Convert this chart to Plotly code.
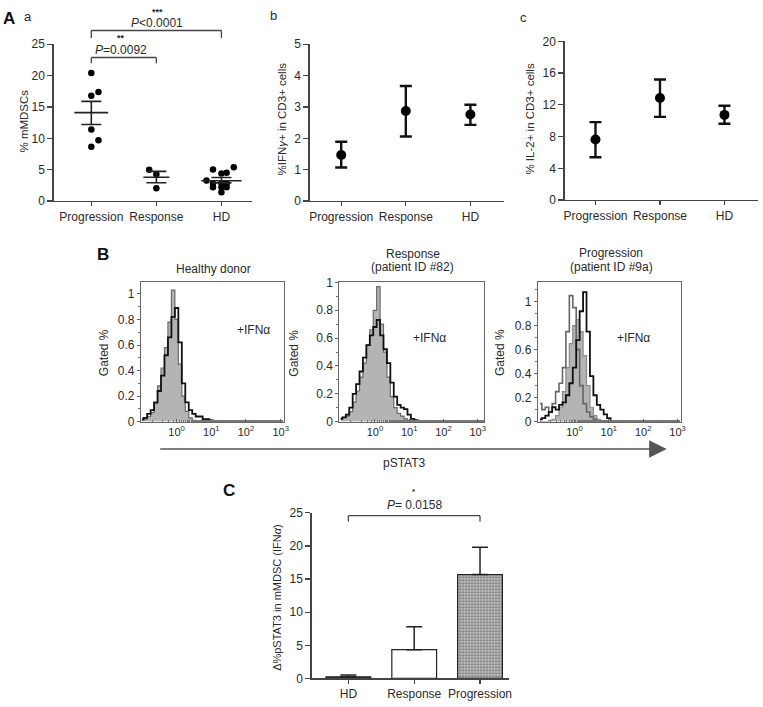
import plotly.graph_objects as go

W, H = 763, 707
FONT = "Liberation Sans, Arial, sans-serif"
TXT = "#2a2a2a"
AX = "#444444"

# ---------------- data ----------------
# Panel A a: % mMDSCs (scatter with mean +/- SEM)
CATS_A = ["Progression", "Response", "HD"]
MDSC_PROG = [20.4, 17.4, 16.8, 11.4, 9.7, 8.65]
MDSC_PROG_JIT = [0, 0.11, 0, 0, 0.11, 0]
MDSC_RESP = [5.0, 4.27, 2.03]
MDSC_RESP_JIT = [-0.11, 0, 0]
MDSC_HD = [5.05, 5.4, 4.4, 4.5, 3.3, 2.8, 2.8, 2.8, 2.2, 2.2, 2.2, 1.4]
MDSC_HD_JIT = [-0.13, 0.19, 0, 0.08, -0.23, -0.13, 0, 0.08, -0.13, 0, 0.08, 0]
MDSC_MEAN = [14.1, 3.8, 3.25]
MDSC_SEM_LOW = [12.2, 2.92, 2.9]
MDSC_SEM_HIGH = [15.9, 4.74, 3.75]

# Panel A b: % IFNg+ in CD3+ cells
IFNG_MEAN = [1.47, 2.87, 2.76]
IFNG_LOW = [1.07, 2.06, 2.43]
IFNG_HIGH = [1.89, 3.67, 3.07]

# Panel A c: % IL-2+ in CD3+ cells
IL2_MEAN = [7.63, 12.87, 10.73]
IL2_LOW = [5.4, 10.48, 9.62]
IL2_HIGH = [9.82, 15.19, 11.88]

# Panel B: pSTAT3 histograms (log10 bin centres, gated %)
LOG_BINS = [-1.0, -0.9, -0.8, -0.7, -0.6, -0.5, -0.4, -0.3, -0.2, -0.1, 0.0, 0.1, 0.2,
            0.3, 0.4, 0.5, 0.6, 0.7, 0.8, 0.9, 1.0, 1.1, 1.2, 1.3, 1.4, 1.5]
HD_FILL = [0.01, 0.02, 0.04, 0.07, 0.14, 0.28, 0.42, 0.58, 0.78, 1.03, 0.80, 0.45, 0.20,
           0.08, 0.03, 0.01, 0, 0, 0, 0, 0, 0, 0, 0, 0, 0]
HD_IFNA = [0.02, 0.03, 0.06, 0.09, 0.15, 0.24, 0.36, 0.52, 0.66, 0.82, 0.89, 0.62, 0.30,
           0.15, 0.09, 0.06, 0.04, 0.04, 0.02, 0.02, 0.01, 0, 0, 0, 0, 0]
RESP_FILL = [0.02, 0.03, 0.04, 0.07, 0.14, 0.22, 0.32, 0.42, 0.55, 0.66, 0.80, 0.97, 0.70,
             0.50, 0.32, 0.18, 0.10, 0.06, 0.04, 0.02, 0.01, 0, 0, 0, 0, 0]
RESP_IFNA = [0.02, 0.03, 0.05, 0.10, 0.20, 0.27, 0.36, 0.46, 0.55, 0.62, 0.68, 0.73, 0.62,
             0.52, 0.42, 0.28, 0.18, 0.12, 0.10, 0.09, 0.05, 0.02, 0.01, 0, 0, 0]
PROG_FILL = [0, 0, 0, 0.01, 0.02, 0.05, 0.12, 0.25, 0.45, 0.65, 0.80, 0.85, 0.75,
             0.55, 0.30, 0.12, 0.05, 0.02, 0, 0, 0, 0, 0, 0, 0, 0]
PROG_GRAY = [0.15, 0.10, 0.12, 0.08, 0.15, 0.25, 0.32, 0.45, 0.75, 1.05, 0.95, 0.60, 0.30,
             0.15, 0.08, 0.04, 0.02, 0, 0, 0, 0, 0, 0, 0, 0, 0]
PROG_IFNA = [0.02, 0.03, 0.05, 0.08, 0.12, 0.10, 0.14, 0.16, 0.22, 0.32, 0.45, 0.68, 0.92,
             1.08, 0.75, 0.38, 0.22, 0.14, 0.10, 0.06, 0.03, 0, 0, 0, 0, 0]
HIST_TICKS = [1, 10, 100, 1000]
HIST_TICKTEXT = ["10<sup>0</sup>", "10<sup>1</sup>", "10<sup>2</sup>", "10<sup>3</sup>"]

# Panel C: delta % pSTAT3 in mMDSC (IFNa)
CATS_C = ["HD", "Response", "Progression"]
PSTAT3_MEAN = [0.25, 4.34, 15.68]
PSTAT3_UPPER = [0.5, 7.8, 19.8]


# ---------------- helpers ----------------
def px(x):
    return x / W


def py(y):
    return 1 - y / H


AXES = {}


def set_axes(n, xl, xr, yb, yt, xrange, yrange):
    AXES[n] = (xl, xr, xrange)
    return (dict(domain=[px(xl), px(xr)], range=xrange),
            dict(domain=[py(yb), py(yt)], range=yrange))


def cat_px(n, v):
    xl, xr, (r0, r1) = AXES[n]
    return xl + (v - r0) / (r1 - r0) * (xr - xl)


fig = go.Figure()

xa1, ya1 = set_axes(1, 53, 253, 198, 38, [-0.58, 2.47], [0, 25])
xa2, ya2 = set_axes(2, 311, 507, 198, 38, [-0.49, 2.52], [0, 5])
xa3, ya3 = set_axes(3, 568, 763, 197, 35, [-0.48, 2.52], [0, 20])
xa7, ya7 = set_axes(7, 313, 512, 685, 516, [-0.56, 2.44], [0, 25])

# ---- panel a
for vals, jit, ci in [(MDSC_PROG, MDSC_PROG_JIT, 0), (MDSC_RESP, MDSC_RESP_JIT, 1),
                      (MDSC_HD, MDSC_HD_JIT, 2)]:
    fig.add_trace(go.Scatter(x=[ci + j for j in jit], y=vals, mode="markers",
                             marker=dict(color="black", size=6.5),
                             xaxis="x", yaxis="y", showlegend=False))
fig.add_trace(go.Scatter(
    x=[0, 1, 2], y=MDSC_MEAN, mode="markers", marker=dict(size=1, opacity=0),
    error_x=dict(type="data", array=[0.26, 0.2, 0.31], symmetric=True, width=0,
                 thickness=1.6, color="#222"),
    error_y=dict(type="data", symmetric=False,
                 array=[h - m for h, m in zip(MDSC_SEM_HIGH, MDSC_MEAN)],
                 arrayminus=[m - l for l, m in zip(MDSC_SEM_LOW, MDSC_MEAN)],
                 width=10, thickness=1.6, color="#222"),
    xaxis="x", yaxis="y", showlegend=False))

# ---- panels b, c
for mean, lo, hi, xr, yr in [(IFNG_MEAN, IFNG_LOW, IFNG_HIGH, "x2", "y2"),
                             (IL2_MEAN, IL2_LOW, IL2_HIGH, "x3", "y3")]:
    fig.add_trace(go.Scatter(
        x=[0, 1, 2], y=mean, mode="markers", marker=dict(color="black", size=10),
        error_y=dict(type="data", symmetric=False,
                     array=[h - m for h, m in zip(hi, mean)],
                     arrayminus=[m - l for l, m in zip(lo, mean)],
                     width=6, thickness=2.4, color="#111"),
        xaxis=xr, yaxis=yr, showlegend=False))

# ---- histograms
XV = [10 ** v for v in LOG_BINS]
hist_specs = [
    (4, 141, 285, [-1.03, 3.09], [0, 1.09], HD_FILL, None, HD_IFNA),
    (5, 341, 487, [-1.04, 3.19], [0, 1.0], RESP_FILL, None, RESP_IFNA),
    (6, 541, 685, [-1.07, 3.09], [0, 1.16], PROG_FILL, PROG_GRAY, PROG_IFNA),
]
hist_axes = {}
for n, xl, xr, xrg, yrg, fill, gray, ifna in hist_specs:
    hist_axes[n] = set_axes(n, xl, xr, 423, 281, xrg, yrg)
    xref, yref = f"x{n}", f"y{n}"
    fig.add_trace(go.Scatter(x=XV, y=fill, mode="lines", line_shape="hvh",
                             fill="tozeroy", fillcolor="#b4b4b4",
                             line=dict(color="#8a8a8a" if gray else "#6a6a6a", width=1.2),
                             xaxis=xref, yaxis=yref, showlegend=False))
    if gray:
        fig.add_trace(go.Scatter(x=XV, y=gray, mode="lines", line_shape="hvh",
                                 line=dict(color="#666666", width=1.6),
                                 xaxis=xref, yaxis=yref, showlegend=False))
    fig.add_trace(go.Scatter(x=XV, y=ifna, mode="lines", line_shape="hvh",
                             line=dict(color="#111111", width=1.8),
                             xaxis=xref, yaxis=yref, showlegend=False))

# ---- panel C bars (one trace per bar for individual fills)
bar_styles = [
    dict(color="#555555"),
    dict(color="white"),
    dict(color="white", pattern=dict(shape="+", fgcolor="#111111", bgcolor="white",
                                     size=3, solidity=0.8, fillmode="overlay")),
]
for i in range(3):
    fig.add_trace(go.Bar(
        x=[i], y=[PSTAT3_MEAN[i]], width=0.68,
        marker=dict(line=dict(color="#222", width=1.2), **bar_styles[i]),
        error_y=dict(type="data", symmetric=False,
                     array=[PSTAT3_UPPER[i] - PSTAT3_MEAN[i]], arrayminus=[0],
                     width=8, thickness=1.5, color="#222"),
        xaxis="x7", yaxis="y7", showlegend=False))

# ---------------- axes styling ----------------
tickfont = dict(family=FONT, size=12, color=TXT)
common_cat = dict(showline=True, linecolor=AX, linewidth=1.2, ticks="outside", ticklen=5,
                  tickcolor=AX, tickwidth=1.2, showgrid=False, zeroline=False,
                  tickfont=tickfont, fixedrange=True)

layout = dict(width=W, height=H, margin=dict(l=0, r=0, t=0, b=0), autosize=False,
              paper_bgcolor="white", plot_bgcolor="white", showlegend=False,
              font=dict(family=FONT, color=TXT), barmode="overlay")

for n, (xa, ya), yt, cats in [
        (1, (xa1, ya1), [0, 5, 10, 15, 20, 25], CATS_A),
        (2, (xa2, ya2), [0, 1, 2, 3, 4, 5], CATS_A),
        (3, (xa3, ya3), [0, 4, 8, 12, 16, 20], CATS_A),
        (7, (xa7, ya7), [0, 5, 10, 15, 20, 25], CATS_C)]:
    sfx = "" if n == 1 else str(n)
    layout["xaxis" + sfx] = dict(xa, anchor="y" + sfx, tickvals=[0, 1, 2], ticktext=cats,
                                 **dict(common_cat, ticklen=4))
    layout["yaxis" + sfx] = dict(ya, anchor="x" + sfx, tickvals=yt, **common_cat)

for n, (xa, ya) in hist_axes.items():
    layout[f"xaxis{n}"] = dict(
        xa, type="log", anchor=f"y{n}", showline=True, mirror=True, linecolor="#666",
        linewidth=1, ticks="inside", ticklen=3, tickcolor="#666", tickvals=HIST_TICKS,
        ticktext=HIST_TICKTEXT, tickfont=dict(family=FONT, size=11, color=TXT),
        showgrid=False, zeroline=False,
        minor=dict(ticks="inside", ticklen=2, tickcolor="#777", showgrid=False))
    layout[f"yaxis{n}"] = dict(
        ya, anchor=f"x{n}", showline=True, mirror=True, linecolor="#666", linewidth=1,
        ticks="outside", ticklen=3, tickcolor="#666", tickvals=[0, 0.2, 0.4, 0.6, 0.8, 1],
        ticktext=["0", "0.2", "0.4", "0.6", "0.8", "1"], tickfont=tickfont,
        showgrid=False, zeroline=False,
        minor=dict(ticks="outside", ticklen=2, dtick=0.1, tickcolor="#777", showgrid=False))

# ---------------- annotations ----------------
ann = []


def txt(x, y, text, size=12, angle=0, **kw):
    d = dict(x=px(x), y=py(y), xref="paper", yref="paper", text=text, showarrow=False,
             font=dict(family=FONT, size=size, color=kw.pop("color", TXT)),
             xanchor="center", yanchor="middle", textangle=angle)
    d.update(kw)
    ann.append(d)


txt(8, 12, "<b>A</b>", 17, color="#111")
txt(27, 10, "a", 13)
txt(275, 9, "b", 13)
txt(527, 11, "c", 13)
txt(103, 253, "<b>B</b>", 17, color="#111")
txt(230, 493, "<b>C</b>", 17, color="#111")

txt(23, 116, "% mMDSCs", 11.5, -90)
txt(283, 114, "%IFN<i>γ</i>+ in CD3+ cells", 11.5, -90)
txt(533, 114, "% IL-2+ in CD3+ cells", 11.5, -90)
txt(278, 603, "Δ%pSTAT3 in mMDSC (IFN<i>α</i>)", 11, -90)
for gx in (104, 295, 503):
    txt(gx, 353, "Gated %", 12, -90)

txt(214, 267, "Healthy donor", 12)
txt(415, 252, "Response", 12)
txt(415, 265, "(patient ID #82)", 12)
txt(615, 251, "Progression", 12)
txt(615, 265, "(patient ID #9a)", 12)
txt(255, 330, "+IFNα", 12)
txt(432, 338, "+IFNα", 12)
txt(638, 338, "+IFNα", 12)
txt(407, 465, "pSTAT3", 12)

# significance brackets
shapes = []


def bracket(n, c1, c2, ytop, ybot):
    x1, x2 = cat_px(n, c1), cat_px(n, c2)
    for (a, b, c, d) in [(x1, ytop, x2, ytop), (x1, ytop, x1, ybot), (x2, ytop, x2, ybot)]:
        shapes.append(dict(type="line", xref="paper", yref="paper", x0=px(a), y0=py(b),
                           x1=px(c), y1=py(d), line=dict(color="#444", width=1.3)))
    return (x1 + x2) / 2


m1 = bracket(1, 0, 2, 24, 31.5)
txt(m1 + 1, 16, "<i>P</i>&lt;0.0001", 12)
txt(m1 + 1, 5, "<b>***</b>", 9)
m2 = bracket(1, 0, 1, 51.5, 57.5)
txt(m2 - 3, 44, "<i>P</i>=0.0092", 12)
txt(m2 - 3, 32, "<b>**</b>", 9)
m3 = bracket(7, 0, 2, 519, 525)
txt(m3, 508, "<i>P</i>= 0.0158", 12)
txt(m3, 494, "<b>*</b>", 8)

# pSTAT3 arrow
ann.append(dict(x=px(671), y=py(451), xref="paper", yref="paper", ax=-(671 - 163), ay=0,
                axref="pixel", ayref="pixel", text="", showarrow=True, arrowhead=2,
                arrowsize=2.2, arrowwidth=1.6, arrowcolor="#555", standoff=0))

layout["annotations"] = ann
layout["shapes"] = shapes
fig.update_layout(**layout)
fig.write_html("out.html", config={"displayModeBar": False, "staticPlot": True},
               post_script="document.body.style.margin='0px';"
                           "document.body.style.overflow='hidden';")
